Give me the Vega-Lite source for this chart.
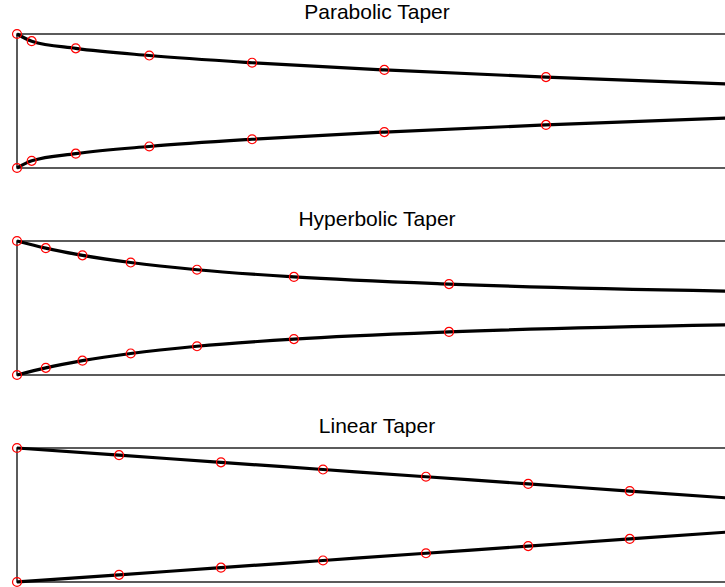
{
  "$schema": "https://vega.github.io/schema/vega-lite/v6.json",
  "background": "white",
  "padding": {"left": 9, "top": 1, "right": 0, "bottom": 0},
  "data": {
    "values": [
      {"taper": "Parabolic Taper", "side": "upper", "x": 0, "y": 1},
      {"taper": "Parabolic Taper", "side": "upper", "x": 0.0204, "y": 0.893},
      {"taper": "Parabolic Taper", "side": "upper", "x": 0.0816, "y": 0.786},
      {"taper": "Parabolic Taper", "side": "upper", "x": 0.1837, "y": 0.679},
      {"taper": "Parabolic Taper", "side": "upper", "x": 0.3265, "y": 0.571},
      {"taper": "Parabolic Taper", "side": "upper", "x": 0.5102, "y": 0.464},
      {"taper": "Parabolic Taper", "side": "upper", "x": 0.7347, "y": 0.357},
      {"taper": "Parabolic Taper", "side": "upper", "x": 1.0, "y": 0.25},
      {"taper": "Parabolic Taper", "side": "lower", "x": 0, "y": -1},
      {"taper": "Parabolic Taper", "side": "lower", "x": 0.0204, "y": -0.893},
      {"taper": "Parabolic Taper", "side": "lower", "x": 0.0816, "y": -0.786},
      {"taper": "Parabolic Taper", "side": "lower", "x": 0.1837, "y": -0.679},
      {"taper": "Parabolic Taper", "side": "lower", "x": 0.3265, "y": -0.571},
      {"taper": "Parabolic Taper", "side": "lower", "x": 0.5102, "y": -0.464},
      {"taper": "Parabolic Taper", "side": "lower", "x": 0.7347, "y": -0.357},
      {"taper": "Parabolic Taper", "side": "lower", "x": 1.0, "y": -0.25},

      {"taper": "Hyperbolic Taper", "side": "upper", "x": 0, "y": 1},
      {"taper": "Hyperbolic Taper", "side": "upper", "x": 0.04, "y": 0.893},
      {"taper": "Hyperbolic Taper", "side": "upper", "x": 0.0909, "y": 0.786},
      {"taper": "Hyperbolic Taper", "side": "upper", "x": 0.1579, "y": 0.679},
      {"taper": "Hyperbolic Taper", "side": "upper", "x": 0.25, "y": 0.571},
      {"taper": "Hyperbolic Taper", "side": "upper", "x": 0.3846, "y": 0.464},
      {"taper": "Hyperbolic Taper", "side": "upper", "x": 0.6, "y": 0.357},
      {"taper": "Hyperbolic Taper", "side": "upper", "x": 1.0, "y": 0.25},
      {"taper": "Hyperbolic Taper", "side": "lower", "x": 0, "y": -1},
      {"taper": "Hyperbolic Taper", "side": "lower", "x": 0.04, "y": -0.893},
      {"taper": "Hyperbolic Taper", "side": "lower", "x": 0.0909, "y": -0.786},
      {"taper": "Hyperbolic Taper", "side": "lower", "x": 0.1579, "y": -0.679},
      {"taper": "Hyperbolic Taper", "side": "lower", "x": 0.25, "y": -0.571},
      {"taper": "Hyperbolic Taper", "side": "lower", "x": 0.3846, "y": -0.464},
      {"taper": "Hyperbolic Taper", "side": "lower", "x": 0.6, "y": -0.357},
      {"taper": "Hyperbolic Taper", "side": "lower", "x": 1.0, "y": -0.25},

      {"taper": "Linear Taper", "side": "upper", "x": 0, "y": 1},
      {"taper": "Linear Taper", "side": "upper", "x": 0.1417, "y": 0.893},
      {"taper": "Linear Taper", "side": "upper", "x": 0.2833, "y": 0.786},
      {"taper": "Linear Taper", "side": "upper", "x": 0.425, "y": 0.679},
      {"taper": "Linear Taper", "side": "upper", "x": 0.568, "y": 0.571},
      {"taper": "Linear Taper", "side": "upper", "x": 0.71, "y": 0.464},
      {"taper": "Linear Taper", "side": "upper", "x": 0.851, "y": 0.357},
      {"taper": "Linear Taper", "side": "upper", "x": 0.993, "y": 0.25},
      {"taper": "Linear Taper", "side": "lower", "x": 0, "y": -1},
      {"taper": "Linear Taper", "side": "lower", "x": 0.1417, "y": -0.893},
      {"taper": "Linear Taper", "side": "lower", "x": 0.2833, "y": -0.786},
      {"taper": "Linear Taper", "side": "lower", "x": 0.425, "y": -0.679},
      {"taper": "Linear Taper", "side": "lower", "x": 0.568, "y": -0.571},
      {"taper": "Linear Taper", "side": "lower", "x": 0.71, "y": -0.464},
      {"taper": "Linear Taper", "side": "lower", "x": 0.851, "y": -0.357},
      {"taper": "Linear Taper", "side": "lower", "x": 0.993, "y": -0.25}
    ]
  },
  "facet": {
    "field": "taper",
    "type": "nominal",
    "sort": ["Parabolic Taper", "Hyperbolic Taper", "Linear Taper"],
    "header": {
      "title": null,
      "labelFont": "Liberation Sans",
      "labelFontSize": 21,
      "labelColor": "black",
      "labelPadding": 4
    }
  },
  "columns": 1,
  "spacing": 32,
  "spec": {
    "width": 720,
    "height": 134,
    "encoding": {
      "x": {"field": "x", "type": "quantitative", "scale": {"domain": [0, 1], "nice": false, "zero": false}, "axis": null},
      "y": {"field": "y", "type": "quantitative", "scale": {"domain": [-1, 1], "nice": false}, "axis": null}
    },
    "layer": [
      {
        "mark": {"type": "line", "color": "black", "strokeWidth": 3.2, "interpolate": "monotone"},
        "encoding": {"detail": {"field": "side", "type": "nominal"}}
      },
      {
        "mark": {"type": "point", "shape": "circle", "filled": false, "stroke": "#ff0000", "strokeWidth": 1.2, "size": 80, "opacity": 1}
      }
    ]
  },
  "config": {
    "view": {"stroke": "#262626", "strokeWidth": 1.5}
  }
}
